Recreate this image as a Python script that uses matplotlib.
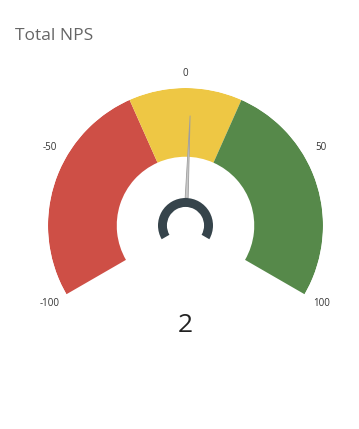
import numpy as np
import matplotlib
matplotlib.use("Agg")
import matplotlib.pyplot as plt

plt.rcParams['font.family'] = ['Open Sans', 'DejaVu Sans']

# gauge data
title = "Total NPS"
band_starts = [-100, -20, 20]
band_ends = [-20, 20, 100]
band_colors = ["#CE4F46", "#EEC744", "#56894A"]
tick_values = [-100, -50, 0, 50, 100]
tick_labels = ["-100", "-50", "0", "50", "100"]
gauge_min, gauge_max = -100, 100
nps_value = 2

W, H = 359, 429
fig = plt.figure(figsize=(W / 100, H / 100), dpi=100)

# full-size polar axes, centre of gauge at (185.5, 225.5) px, outer radius 137.5 px
cx, cy, R = 185.5, 225.5, 137.5
ax = fig.add_axes([(cx - R) / W, (H - cy - R) / H, 2 * R / W, 2 * R / H],
                  projection="polar")
ax.set_theta_zero_location("N")
ax.set_theta_direction(-1)
ax.set_ylim(0, 1)
ax.axis("off")

span = 240.0  # degrees swept by the gauge


def to_theta(v):
    return np.deg2rad((v - gauge_min) / (gauge_max - gauge_min) * span - span / 2)


inner = 0.50
for s, e, c in zip(band_starts, band_ends, band_colors):
    t0, t1 = to_theta(s), to_theta(e)
    ax.bar((t0 + t1) / 2, 1 - inner, width=t1 - t0, bottom=inner,
           color=c, edgecolor="none", align="center")

# tick labels around the outside
for v, lab in zip(tick_values, tick_labels):
    r = 1.105 if v == 0 else 1.14
    ax.text(to_theta(v), r, lab, ha="center", va="center", fontsize=7,
            color="#333333", clip_on=False)

# needle
tv = to_theta(nps_value)
hub_out, hub_in = 0.2, 0.135
ax.fill([tv - 0.055, tv, tv + 0.055], [hub_out, 0.80, hub_out],
        facecolor="#C9C9C9", edgecolor="#9E9E9E", linewidth=0.6, zorder=3)

# hub ring
t0, t1 = to_theta(gauge_min), to_theta(gauge_max)
ax.bar((t0 + t1) / 2, hub_out - hub_in, width=t1 - t0, bottom=hub_in,
       color="#36444B", edgecolor="none", zorder=4)

fig.text(15 / W, 1 - 36 / H, title, fontsize=12.5, color="#666666",
         ha="left", va="center")
fig.text(cx / W, 1 - 325 / H, str(nps_value), fontsize=19, color="#222222",
         ha="center", va="center")

fig.savefig("out.png", dpi=100)
